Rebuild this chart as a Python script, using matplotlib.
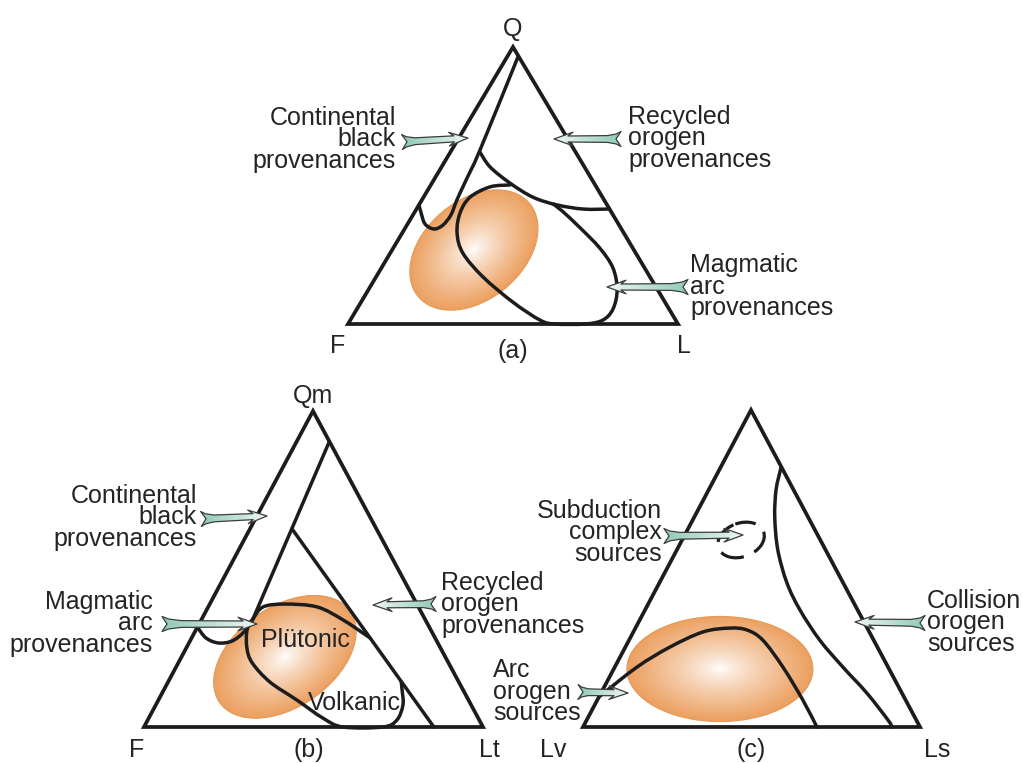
import numpy as np
import matplotlib
matplotlib.use("Agg")
import matplotlib.pyplot as plt
from matplotlib.path import Path
from matplotlib.patches import PathPatch, Ellipse, Polygon
from matplotlib.colors import to_rgb

plt.rcParams['font.family'] = ['Liberation Sans', 'DejaVu Sans']

# ---- data: boundary curves as ternary fractions (top apex, right apex) ----
# (a) Q - F - L
a_block_q = [0.964, 0.628, 0.520, 0.448, 0.394, 0.357, 0.343, 0.361, 0.401, 0.430]
a_block_l = [0.033, 0.086, 0.098, 0.106, 0.115, 0.109, 0.089, 0.053, 0.021, 0.000]
a_recyc_q = [0.621, 0.567, 0.509, 0.458, 0.430, 0.415, 0.415]
a_recyc_l = [0.089, 0.147, 0.236, 0.331, 0.418, 0.505, 0.585]
a_arc_q = [0.502, 0.495, 0.458, 0.401, 0.329, 0.256, 0.170, 0.079, 0.014, 0.0,
           0.0, 0.014, 0.054, 0.123, 0.202, 0.274, 0.347, 0.408, 0.433]
a_arc_l = [0.240, 0.183, 0.141, 0.139, 0.166, 0.220, 0.324, 0.460, 0.575, 0.627,
           0.718, 0.765, 0.776, 0.754, 0.702, 0.626, 0.530, 0.445, 0.405]
a_field_center = (0.267, 0.248)
a_field_size = (0.44, 0.30)
a_field_tilt = 40

# (b) Qm - F - Lt
b_line_qm = [0.903, 0.342]
b_line_lt = [0.0965, 0.151]
b_inner_qm = [0.627, 0.0]
b_inner_lt = [0.124, 0.855]
b_hook_qm = [0.316, 0.282, 0.266, 0.272, 0.301, 0.342]
b_hook_lt = [0.0, 0.042, 0.086, 0.124, 0.145, 0.151]
b_plut_qm = [0.282, 0.339, 0.380, 0.389, 0.380, 0.342, 0.307, 0.250, 0.203, 0.142,
             0.085, 0.028, 0.0, 0.0, 0.022, 0.070, 0.117, 0.142]
b_plut_lt = [0.526, 0.418, 0.321, 0.222, 0.162, 0.151, 0.151, 0.179, 0.218, 0.301,
             0.409, 0.514, 0.587, 0.705, 0.735, 0.729, 0.703, 0.688]
b_field_center = (0.222, 0.305)
b_field_size = (0.47, 0.295)
b_field_tilt = 35

# (c) Qp - Lv - Ls
c_coll_q = [0.817, 0.748, 0.662, 0.558, 0.454, 0.369, 0.274, 0.189, 0.107, 0.022, 0.0]
c_coll_ls = [0.180, 0.200, 0.239, 0.300, 0.379, 0.460, 0.566, 0.677, 0.789, 0.894, 0.917]
c_arc_q = [0.095, 0.189, 0.252, 0.300, 0.312, 0.306, 0.274, 0.189, 0.085, 0.0]
c_arc_ls = [0.0, 0.066, 0.132, 0.207, 0.280, 0.334, 0.397, 0.499, 0.610, 0.694]
c_field_center = (0.183, 0.315)
c_field_size = (0.552, 0.312)
c_subd_center = (0.590, 0.175)
c_subd_size = (0.142, 0.10)
c_subd_tilt = 20

INK = '#1c1c1c'
TXT = '#262324'
ORANGE = np.array(to_rgb('#eca060'))
TEAL = np.array(to_rgb('#8fcab5'))
PALE = np.array(to_rgb('#eef7f3'))

# triangle layout (pixels)
tri_a = {'left': (348, 324), 'right': (678, 324), 'top': (513, 47)}
tri_b = {'left': (144, 727), 'right': (483, 727), 'top': (313, 411)}
tri_c = {'left': (583, 727), 'right': (920, 727), 'top': (751, 410)}


def to_xy(tri, top, right):
    L = np.array(tri['left'], float)
    R = np.array(tri['right'], float)
    T = np.array(tri['top'], float)
    return L + np.outer(right, R - L) + np.outer(top, T - L)


def smooth_path(pts):
    pts = np.asarray(pts, float)
    n = len(pts)
    if n < 3:
        return Path(pts)
    verts = [pts[0]]
    codes = [Path.MOVETO]
    for i in range(n - 1):
        p0 = pts[i - 1] if i > 0 else pts[i]
        p1 = pts[i]
        p2 = pts[i + 1]
        p3 = pts[i + 2] if i + 2 < n else pts[i + 1]
        verts += [p1 + (p2 - p0) / 6, p2 - (p3 - p1) / 6, p2]
        codes += [Path.CURVE4] * 3
    return Path(verts, codes)


def curve(ax, tri, top, right):
    p = smooth_path(to_xy(tri, top, right))
    ax.add_patch(PathPatch(p, fill=False, lw=2.5, ec=INK, capstyle='round',
                           joinstyle='round', zorder=3))


def triangle(ax, tri):
    ax.add_patch(Polygon([tri['left'], tri['right'], tri['top']], closed=True,
                         fill=False, ec=INK, lw=2.7, joinstyle='miter', zorder=3))


def field(ax, tri, center, size, tilt):
    cx, cy = to_xy(tri, [center[0]], [center[1]])[0]
    W = tri['right'][0] - tri['left'][0]
    w, h = size[0] * W, size[1] * W
    ang = -tilt
    ell = Ellipse((cx, cy), w, h, angle=ang, fc='none', ec='#e49a56', lw=0.8, zorder=1.5)
    ax.add_patch(ell)
    r = max(w, h) / 2 + 3
    xs = np.arange(cx - r, cx + r, 1.0)
    ys = np.arange(cy - r, cy + r, 1.0)
    X, Y = np.meshgrid(xs, ys)
    phi = np.deg2rad(ang)
    dx, dy = X - cx, Y - cy
    u = dx * np.cos(phi) + dy * np.sin(phi)
    v = -dx * np.sin(phi) + dy * np.cos(phi)
    t = np.clip(np.sqrt((u / (w / 2)) ** 2 + (v / (h / 2)) ** 2), 0, 1) ** 0.8
    img = (1 - t)[..., None] * np.ones(3) + t[..., None] * ORANGE
    im = ax.imshow(img, extent=(xs[0], xs[-1], ys[-1], ys[0]), origin='upper',
                   interpolation='bilinear', zorder=1)
    im.set_clip_path(ell)


def dashed_ring(ax, tri, center, size, tilt):
    cx, cy = to_xy(tri, [center[0]], [center[1]])[0]
    W = tri['right'][0] - tri['left'][0]
    ax.add_patch(Ellipse((cx, cy), size[0] * W, size[1] * W, angle=-tilt, fill=False,
                         ec=INK, lw=2.3, linestyle=(1, (7.5, 3.6)), zorder=3))


def arrow(ax, tail, tip):
    tail = np.array(tail, float)
    tip = np.array(tip, float)
    d = tip - tail
    L = np.hypot(*d)
    ux = d / L
    uy = np.array([-ux[1], ux[0]])
    local = [(0, 7.5), (0.07 * L, 5.0), (0.2 * L, 3.4), (L - 14, 3.0), (L - 19, 6.8),
             (L, 0), (L - 19, -6.8), (L - 14, -3.0), (0.2 * L, -3.4), (0.07 * L, -5.0),
             (0, -7.5), (5, 0)]
    pts = np.array([tail + x * ux + y * uy for x, y in local])
    poly = Polygon(pts, closed=True, fc='none', ec='#3c3c3c', lw=0.9,
                   joinstyle='round', zorder=5.1)
    ax.add_patch(poly)
    x0, y0 = pts.min(axis=0) - 2
    x1, y1 = pts.max(axis=0) + 2
    xs = np.arange(x0, x1, 0.5)
    ys = np.arange(y0, y1, 0.5)
    X, Y = np.meshgrid(xs, ys)
    t = np.clip(((X - tail[0]) * ux[0] + (Y - tail[1]) * ux[1]) / L, 0, 1)
    img = (1 - t)[..., None] * TEAL + t[..., None] * PALE
    im = ax.imshow(img, extent=(xs[0], xs[-1], ys[-1], ys[0]), origin='upper',
                   interpolation='bilinear', zorder=5)
    im.set_clip_path(poly)


def label(ax, x, y0, lines, ha):
    for i, s in enumerate(lines):
        ax.text(x, y0 + i * 21.5, s, ha=ha, va='baseline', fontsize=18,
                color=TXT, zorder=6)


fig = plt.figure(figsize=(10.23, 7.63), dpi=100)
ax = fig.add_axes([0, 0, 1, 1])

# (a)
field(ax, tri_a, a_field_center, a_field_size, a_field_tilt)
triangle(ax, tri_a)
curve(ax, tri_a, a_block_q, a_block_l)
curve(ax, tri_a, a_recyc_q, a_recyc_l)
curve(ax, tri_a, a_arc_q, a_arc_l)

# (b)
field(ax, tri_b, b_field_center, b_field_size, b_field_tilt)
triangle(ax, tri_b)
curve(ax, tri_b, b_line_qm, b_line_lt)
curve(ax, tri_b, b_inner_qm, b_inner_lt)
curve(ax, tri_b, b_hook_qm, b_hook_lt)
curve(ax, tri_b, b_plut_qm, b_plut_lt)

# (c)
field(ax, tri_c, c_field_center, c_field_size, 0)
triangle(ax, tri_c)
curve(ax, tri_c, c_coll_q, c_coll_ls)
curve(ax, tri_c, c_arc_q, c_arc_ls)
dashed_ring(ax, tri_c, c_subd_center, c_subd_size, c_subd_tilt)

# arrows
for tail, tip in [((402, 142), (468, 138)), ((621, 139), (554, 139)),
                  ((688, 287), (607, 287)), ((201, 519), (267, 516)),
                  ((162, 624), (257, 624)), ((436, 604), (373, 605)),
                  ((664, 536), (743, 535)), ((578, 692), (628, 693)),
                  ((925, 623), (855, 622))]:
    arrow(ax, tail, tip)

# labels
label(ax, 396, 125, ['Continental', 'black', 'provenances'], 'right')
label(ax, 628, 124, ['Recycled', 'orogen', 'provenances'], 'left')
label(ax, 690, 272, ['Magmatic', 'arc', 'provenances'], 'left')
label(ax, 197, 503, ['Continental', 'black', 'provenances'], 'right')
label(ax, 153, 609, ['Magmatic', 'arc', 'provenances'], 'right')
label(ax, 441, 590, ['Recycled', 'orogen', 'provenances'], 'left')
label(ax, 662, 518, ['Subduction', 'complex', 'sources'], 'right')
label(ax, 493, 677, ['Arc', 'orogen', 'sources'], 'left')
label(ax, 927, 608, ['Collision', 'orogen', 'sources'], 'left')

for x, y, s in [(513, 36, 'Q'), (338, 353, 'F'), (684, 353, 'L'), (513, 358, '(a)'),
                (313, 403, 'Qm'), (137, 757, 'F'), (489, 757, 'Lt'), (309, 757, '(b)'),
                (553, 757, 'Lv'), (751, 757, '(c)'), (937, 757, 'Ls'),
                (305, 647, 'Plütonic'), (354, 710, 'Volkanic')]:
    ax.text(x, y, s, ha='center', va='baseline', fontsize=18, color=TXT, zorder=6)

ax.set_xlim(0, 1023)
ax.set_ylim(763, 0)
ax.set_aspect('auto')
ax.axis('off')
fig.savefig('out.png', dpi=100)
